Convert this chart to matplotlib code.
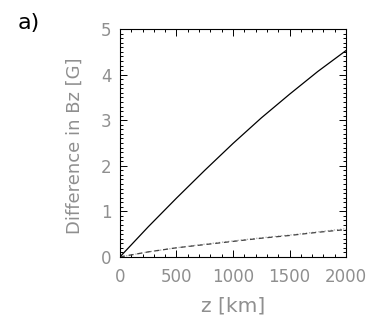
import matplotlib
matplotlib.use("Agg")
import matplotlib.pyplot as plt
from matplotlib.ticker import MultipleLocator

# data
z_km = [0, 250, 500, 750, 1000, 1250, 1500, 1750, 2000]
diff_solid = [0.0, 0.66, 1.29, 1.90, 2.49, 3.05, 3.57, 4.07, 4.53]
diff_dashed = [0.0, 0.11, 0.20, 0.27, 0.34, 0.41, 0.47, 0.54, 0.60]
diff_dotted = [0.0, 0.11, 0.20, 0.28, 0.35, 0.42, 0.48, 0.55, 0.62]

LABEL_GRAY = "#8f8f8f"
plt.rcParams.update({"font.family": "DejaVu Sans", "font.size": 12})

fig = plt.figure(figsize=(3.82, 3.16), dpi=100)
ax = fig.add_axes([0.314, 0.187, 0.592, 0.721])

ax.plot(z_km, diff_solid, color="black", linewidth=0.9)
ax.plot(z_km, diff_dotted, color="#aaaaaa", linewidth=0.9, linestyle=(0, (1, 1.5)))
ax.plot(z_km, diff_dashed, color="#444444", linewidth=0.9, linestyle=(0, (4, 3)))

ax.set_xlim(0, 2000)
ax.set_ylim(0, 5)
ax.xaxis.set_major_locator(MultipleLocator(500))
ax.xaxis.set_minor_locator(MultipleLocator(100))
ax.yaxis.set_major_locator(MultipleLocator(1))
ax.yaxis.set_minor_locator(MultipleLocator(0.1))
ax.tick_params(which="both", direction="in", top=True, right=True,
               colors="black", labelcolor=LABEL_GRAY, width=0.7)
ax.tick_params(which="major", length=5, labelsize=12)
ax.tick_params(axis="x", which="major", pad=8)
ax.tick_params(axis="y", which="major", pad=6)
ax.tick_params(which="minor", length=2.5)
for s in ax.spines.values():
    s.set_linewidth(0.8)

ax.set_xlabel("z [km]", color=LABEL_GRAY, fontsize=14.5, va="center")
ax.set_ylabel("Difference in Bz [G]", color=LABEL_GRAY, fontsize=13, va="center")
ax.xaxis.set_label_coords(0.5, -0.215)
ax.yaxis.set_label_coords(-0.199, 0.49)

fig.text(0.045, 0.927, "a)", fontsize=16, color="black", va="center")

plt.savefig("out.png", dpi=100)
plt.close()
